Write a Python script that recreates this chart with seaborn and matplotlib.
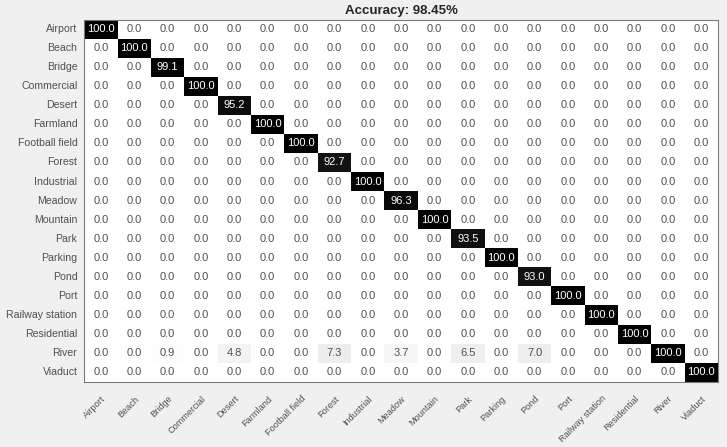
import numpy as np
import pandas as pd
import matplotlib
matplotlib.use("Agg")
import matplotlib.pyplot as plt
import seaborn as sns

# class names (rows = columns)
classes = ["Airport", "Beach", "Bridge", "Commercial", "Desert", "Farmland",
           "Football field", "Forest", "Industrial", "Meadow", "Mountain",
           "Park", "Parking", "Pond", "Port", "Railway station",
           "Residential", "River", "Viaduct"]

# per-class accuracy on the diagonal
diag_values = [100.0, 100.0, 99.1, 100.0, 95.2, 100.0, 100.0, 92.7, 100.0,
               96.3, 100.0, 93.5, 100.0, 93.0, 100.0, 100.0, 100.0, 100.0,
               100.0]

# the River row is the only one with off-diagonal entries
river_row = [0.0, 0.0, 0.9, 0.0, 4.8, 0.0, 0.0, 7.3, 0.0, 3.7, 0.0, 6.5,
             0.0, 7.0, 0.0, 0.0, 0.0, 100.0, 0.0]

title = "Accuracy: 98.45%"

cm = np.diag(diag_values)
cm[classes.index("River"), :] = river_row
df = pd.DataFrame(cm, index=classes, columns=classes)

plt.rcParams['font.family'] = ['Liberation Sans', 'DejaVu Sans']

fig = plt.figure(figsize=(7.27, 4.47), dpi=100, facecolor="#f0f0f0")
ax = fig.add_axes([84.3 / 727, 1 - 381.7 / 447, 633.7 / 727, 362.2 / 447])

sns.heatmap(df, ax=ax, cmap="gray_r", vmin=0, vmax=100, cbar=False,
            annot=False, square=False)

# annotations: white on dark cells, gray on light ones
for i in range(len(classes)):
    for j in range(len(classes)):
        v = df.iat[i, j]
        color = "white" if v > 50 else "#505050"
        ax.text(j + 0.5, i + 0.5, f"{v:.1f}", ha="center", va="center",
                fontsize=8, color=color)

ax.set_title(title, fontsize=9.5, fontweight="bold", color="#262626", pad=4)
ax.set_xlabel("")
ax.set_ylabel("")
ax.tick_params(length=0, colors="#505050")
ax.set_yticklabels(classes, rotation=0, fontsize=7.6)
ax.set_xticklabels(classes, rotation=45, ha="right", rotation_mode="anchor",
                   fontsize=6.6)
ax.tick_params(axis="x", pad=9)
ax.tick_params(axis="y", pad=5)

for side in ["top", "bottom", "left", "right"]:
    ax.spines[side].set_visible(True)
    ax.spines[side].set_color("#7a7a7a")
    ax.spines[side].set_linewidth(0.8)

fig.savefig("out.png", dpi=100, facecolor=fig.get_facecolor())
